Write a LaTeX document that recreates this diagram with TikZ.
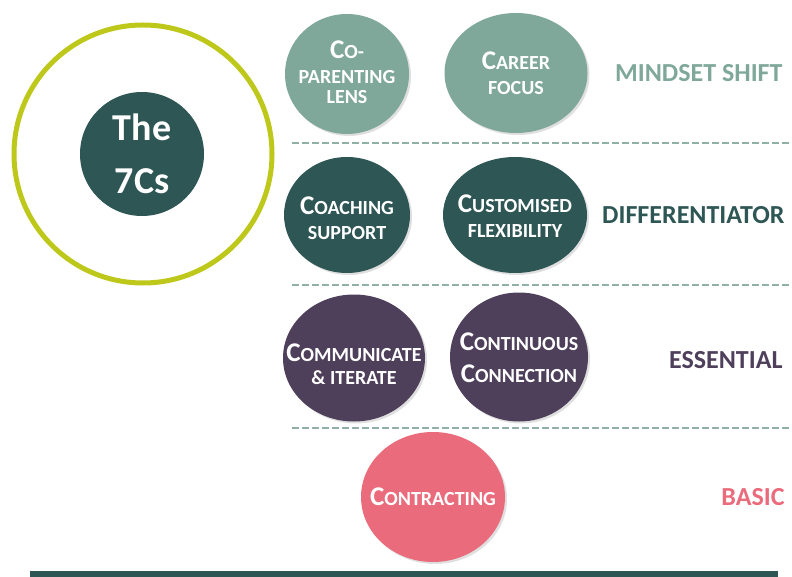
\documentclass[tikz,border=0pt]{standalone}
\usepackage{fontspec}
\setmainfont{Carlito}
\usetikzlibrary{shapes.geometric,shadows}
\definecolor{lteal}{HTML}{7FA89A}
\definecolor{dteal}{HTML}{2D5654}
\definecolor{plum}{HTML}{4E3F5A}
\definecolor{rose}{HTML}{EA6B7B}
\definecolor{lime}{HTML}{BEC81A}
\definecolor{dashc}{HTML}{8FB0A3}
\newcommand\bcap[1]{{\fontsize{27}{26}\selectfont #1}}
\tikzset{
  blob/.style={ellipse, inner sep=0pt,
    drop shadow={shadow xshift=2pt, shadow yshift=-2pt, opacity=0.25}},
  blobtext/.style={text=white, align=center, inner sep=0pt,
    font=\bfseries\fontsize{20}{25}\selectfont},
  tier/.style={anchor=east, font=\bfseries\fontsize{26}{27}\selectfont},
  sep/.style={dashc, line width=2.5pt, dash pattern=on 7pt off 3pt}
}
\begin{document}
\begin{tikzpicture}[x=1pt,y=1pt]
\useasboundingbox (0,0) rectangle (792,-577);
% big circle
\node (ring) [circle, draw=lime, line width=5pt, minimum size=258pt, inner sep=0pt] at (143,-154) {};
\node (core) [circle, fill=dteal, minimum size=124pt, inner sep=0pt, text=white, align=center,
  font=\bfseries\fontsize{38}{53}\selectfont] at (142,-154) {The\\7Cs};
% row 1
\node (cpl) [blob, fill=lteal, minimum width=124pt, minimum height=120pt] at (347,-74) {};
\node (cplt) [blobtext, yshift=2pt] at (cpl) {\bcap{C}O-\\PARENTING\\[-5pt]LENS};
\node (cf) [blob, fill=lteal, minimum width=143pt, minimum height=120pt] at (516,-73) {};
\node (cft) [blobtext] at (cf) {\bcap{C}AREER\\FOCUS};
\node (l1) [tier, text=lteal] at (786,-73) {MINDSET SHIFT};
% row 2
\node (cs) [blob, fill=dteal, minimum width=126pt, minimum height=116pt] at (347,-215) {};
\node (cst) [blobtext, yshift=-3pt] at (cs) {\bcap{C}OACHING\\SUPPORT};
\node (cfx) [blob, fill=dteal, minimum width=144pt, minimum height=116pt] at (515,-215) {};
\node (cfxt) [blobtext, yshift=-1pt] at (cfx) {\bcap{C}USTOMISED\\FLEXIBILITY};
\node (l2) [tier, text=dteal] at (788,-215) {DIFFERENTIATOR};
% row 3
\node (ci) [blob, fill=plum, minimum width=142pt, minimum height=127pt] at (354,-358) {};
\node (cit) [blobtext, yshift=-6pt] at (ci) {\bcap{C}OMMUNICATE\\[-2pt]\& ITERATE};
\node (cc) [blob, fill=plum, minimum width=138pt, minimum height=129pt] at (519,-357) {};
\node (cct) [blobtext, yshift=-1pt] at (cc) {\bcap{C}ONTINUOUS\\[7pt]\bcap{C}ONNECTION};
\node (l3) [tier, text=plum] at (786,-360) {ESSENTIAL};
% row 4
\node (ct) [blob, fill=rose, minimum width=144pt, minimum height=130pt] at (433,-497) {};
\node (ctt) [blobtext] at (ct) {\bcap{C}ONTRACTING};
\node (l4) [tier, text=rose] at (788,-497) {BASIC};
% separators
\coordinate (s1a) at (292,-143); \coordinate (s1b) at (790,-143);
\coordinate (s2a) at (292,-285); \coordinate (s2b) at (790,-285);
\coordinate (s3a) at (292,-428); \coordinate (s3b) at (790,-428);
\draw[sep] (s1a) -- (s1b);
\draw[sep] (s2a) -- (s2b);
\draw[sep] (s3a) -- (s3b);
% base bar
\fill[dteal] (30,-571) rectangle (778,-577);
\end{tikzpicture}
\end{document}
